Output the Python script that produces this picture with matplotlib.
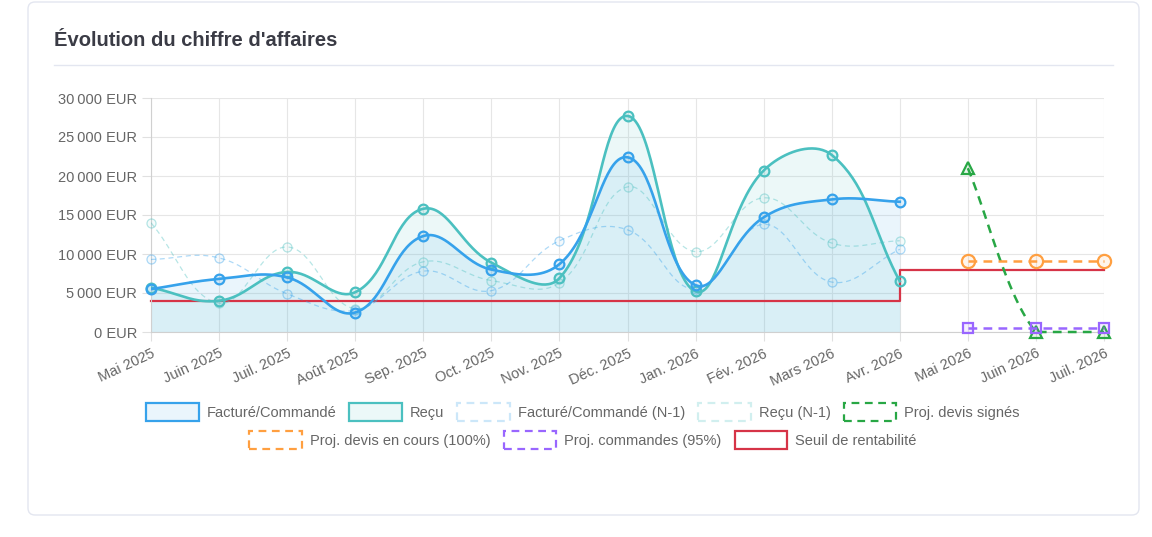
import numpy as np
import matplotlib
matplotlib.use("Agg")
import matplotlib.pyplot as plt
from matplotlib.patches import Patch, FancyBboxPatch
from matplotlib.lines import Line2D
from matplotlib.transforms import IdentityTransform, ScaledTranslation
from matplotlib.ticker import FuncFormatter, MultipleLocator

plt.rcParams['font.family'] = ['Liberation Sans', 'DejaVu Sans']

# Data
months = ["Mai 2025", "Juin 2025", "Juil. 2025", "Août 2025", "Sep. 2025",
          "Oct. 2025", "Nov. 2025", "Déc. 2025", "Jan. 2026", "Fév. 2026",
          "Mars 2026", "Avr. 2026", "Mai 2026", "Juin 2026", "Juil. 2026"]

facture = [5500, 6800, 7000, 2500, 12300, 8000, 8700, 22400, 6000, 14700, 17000, 16700]
recu = [5700, 4000, 7700, 5100, 15800, 8900, 6900, 27700, 5200, 20700, 22700, 6500]
facture_n1 = [9300, 9500, 4900, 2800, 7800, 5300, 11700, 13100, 5500, 13800, 6400, 10600]
recu_n1 = [14000, 3700, 10900, 3000, 9000, 6600, 6300, 18600, 10300, 17200, 11400, 11700]

proj_signes = [21000, 0, 0]
proj_en_cours = [9100, 9100, 9100]
proj_commandes = [500, 500, 500]

seuil = [4000] * 11 + [8000] * 4

BLUE = "#36a2eb"
TEAL = "#4bc0c0"
GREEN = "#28a745"
ORANGE = "#ff9f40"
PURPLE = "#9966ff"
RED = "#d63447"

W, H = 1152, 537
fig = plt.figure(figsize=(W / 100, H / 100), dpi=100)

# card + title
card = FancyBboxPatch((28, H - 515), 1111, 513,
                      boxstyle="round,pad=0,rounding_size=7",
                      transform=IdentityTransform(), facecolor="white",
                      edgecolor="#e3e6f0", linewidth=1, zorder=-10)
fig.patches.append(card)
fig.text(54 / W, 1 - 41 / H, "Évolution du chiffre d'affaires", fontsize=14.5,
         fontweight="bold", color="#3a3b45", va="center", ha="left")
fig.lines.append(Line2D([54, 1113], [H - 65, H - 65], transform=IdentityTransform(),
                        color="#e3e6f0", linewidth=1))

ax = fig.add_axes([151 / W, 1 - 332 / H, (1104 - 151) / W, (332 - 98) / H])
ax.patch.set_alpha(0)
ax.set_xlim(0, len(months) - 1)
ax.set_ylim(0, 30000)

sx = (1104 - 151) / (len(months) - 1)
sy = (332 - 98) / 30000


def spline(xs, ys, tension=0.4, n=40):
    # same bezier control points as chart.js (computed in pixel space)
    px = np.asarray(xs, float) * sx
    py = np.asarray(ys, float) * sy
    k = len(px)
    cprev = np.zeros((k, 2))
    cnext = np.zeros((k, 2))
    for i in range(k):
        a = max(i - 1, 0)
        b = min(i + 1, k - 1)
        d01 = np.hypot(px[i] - px[a], py[i] - py[a])
        d12 = np.hypot(px[b] - px[i], py[b] - py[i])
        tot = d01 + d12
        s01 = d01 / tot if tot else 0
        s12 = d12 / tot if tot else 0
        dx, dy = px[b] - px[a], py[b] - py[a]
        cprev[i] = (px[i] - tension * s01 * dx, py[i] - tension * s01 * dy)
        cnext[i] = (px[i] + tension * s12 * dx, py[i] + tension * s12 * dy)
    lo, hi = 0, 30000 * sy
    cprev[:, 1] = np.clip(cprev[:, 1], lo, hi)
    cnext[:, 1] = np.clip(cnext[:, 1], lo, hi)
    t = np.linspace(0, 1, n)[:, None]
    out = []
    for i in range(k - 1):
        p0 = np.array([px[i], py[i]])
        p3 = np.array([px[i + 1], py[i + 1]])
        p1, p2 = cnext[i], cprev[i + 1]
        seg = ((1 - t) ** 3) * p0 + 3 * ((1 - t) ** 2) * t * p1 + 3 * (1 - t) * t ** 2 * p2 + t ** 3 * p3
        out.append(seg if i == 0 else seg[1:])
    out = np.vstack(out)
    return out[:, 0] / sx, out[:, 1] / sy


x_hist = np.arange(len(facture))
x_proj = np.arange(12, 15)

# threshold (stepped)
ax.plot(np.arange(len(seuil)), seuil, drawstyle="steps-post", color=RED, lw=1.6, zorder=2,
        clip_on=False)

# N-1 series
for vals, col in [(recu_n1, TEAL), (facture_n1, BLUE)]:
    cx, cy = spline(x_hist, vals)
    ax.plot(cx, cy, color=col, alpha=0.4, lw=0.9, dashes=(4, 3), zorder=3)
    ax.plot(x_hist, vals, ls="none", marker="o", ms=6.5, mew=0.9, clip_on=False,
            mec=matplotlib.colors.to_rgba(col, 0.4), mfc=matplotlib.colors.to_rgba(col, 0.05), zorder=3)

# main series with fill
for vals, col, z in [(recu, TEAL, 4), (facture, BLUE, 5)]:
    cx, cy = spline(x_hist, vals)
    ax.fill_between(cx, cy, 0, color=col, alpha=0.1, lw=0, zorder=1)
    ax.plot(cx, cy, color=col, lw=1.9, zorder=z)
    ax.plot(x_hist, vals, ls="none", marker="o", ms=7, mew=1.6, mec=col, clip_on=False,
            mfc=matplotlib.colors.to_rgba(col, 0.15), zorder=z)

# projections
for vals, col, mk, ms in [(proj_signes, GREEN, "^", 9), (proj_en_cours, ORANGE, "o", 9.5),
                          (proj_commandes, PURPLE, "s", 6.5)]:
    cx, cy = spline(x_proj, vals, tension=0.3)
    ax.plot(cx, cy, color=col, lw=1.8, dashes=(3.5, 2.5), zorder=6, clip_on=False)
    ax.plot(x_proj, vals, ls="none", marker=mk, ms=ms, mew=1.6, mec=col, clip_on=False,
            mfc=matplotlib.colors.to_rgba(col, 0.1), zorder=6)

# axes styling
ax.set_xticks(np.arange(len(months)))
ax.set_xticklabels(months, rotation=25, ha="right", va="top", rotation_mode="anchor")
shift = ScaledTranslation(-4 / 100, -1 / 100, fig.dpi_scale_trans)
for lbl in ax.get_xticklabels():
    lbl.set_transform(lbl.get_transform() + shift)
ax.yaxis.set_major_locator(MultipleLocator(5000))
ax.yaxis.set_major_formatter(FuncFormatter(lambda v, p: f"{int(v):,}".replace(",", "\u202f") + " EUR"))
ax.grid(True, color="#e6e6e6", lw=0.8)
ax.set_axisbelow(True)
ax.tick_params(axis="both", colors="#e0e0e0", labelcolor="#666666", labelsize=10.5,
               length=6.5, width=0.8)
ax.tick_params(axis="y", pad=3.5)
ax.tick_params(axis="x", pad=4)
for s in ["top", "right"]:
    ax.spines[s].set_visible(False)
for s in ["left", "bottom"]:
    ax.spines[s].set_color("#d0d0d0")
    ax.spines[s].set_linewidth(0.8)

# legend in two centred rows
def box(col, fill, ls="-", ealpha=1.0):
    return Patch(facecolor=fill, edgecolor=matplotlib.colors.to_rgba(col, ealpha),
                 linewidth=1.6, linestyle=(0, (3.5, 2.5)) if ls == "--" else "-")

row1 = [box(BLUE, matplotlib.colors.to_rgba(BLUE, 0.1)),
        box(TEAL, matplotlib.colors.to_rgba(TEAL, 0.1)),
        box(BLUE, "none", "--", 0.25),
        box(TEAL, "none", "--", 0.25),
        box(GREEN, "white", "--")]
labels1 = ["Facturé/Commandé", "Reçu", "Facturé/Commandé (N-1)", "Reçu (N-1)", "Proj. devis signés"]
row2 = [box(ORANGE, "white", "--"), box(PURPLE, "white", "--"), box(RED, "white")]
labels2 = ["Proj. devis en cours (100%)", "Proj. commandes (95%)", "Seuil de rentabilité"]

kw = dict(loc="center", frameon=False, fontsize=10.5, handlelength=3.6, handleheight=1.5,
          handletextpad=0.55, columnspacing=0.9, labelcolor="#666666", borderpad=0)
fig.legend(row1, labels1, ncol=5, bbox_to_anchor=(583 / W, 1 - 412 / H), **kw)
fig.legend(row2, labels2, ncol=3, bbox_to_anchor=(583 / W, 1 - 440 / H), **kw)

fig.savefig("out.png", dpi=100, facecolor="white")
